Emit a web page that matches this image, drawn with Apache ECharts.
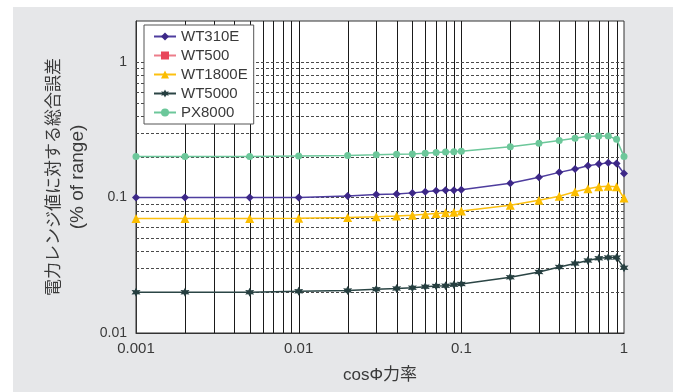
<!DOCTYPE html>
<html>
<head>
<meta charset="utf-8">
<script src="https://cdn.jsdelivr.net/npm/echarts@6/dist/echarts.min.js"></script>
<style>
  html, body { margin: 0; padding: 0; background: #fff; }
  #bg { position: absolute; left: 13px; top: 7px; width: 660px; height: 385px; background: #e6e7e9; }
  #chart { position: absolute; left: 0; top: 0; width: 673px; height: 392px; }
</style>
</head>
<body>
<div id="bg"></div>
<div id="chart"></div>
<script>
// power factor (x) and total error in % of range (y)
const cosPhi = [0.001, 0.002, 0.005, 0.01, 0.02, 0.03, 0.04, 0.05, 0.06, 0.07, 0.08, 0.09,
  0.1, 0.2, 0.3, 0.4, 0.5, 0.6, 0.7, 0.8, 0.9, 1];
const wt310e = [0.1, 0.1, 0.1, 0.1, 0.1026, 0.105, 0.106, 0.108, 0.11, 0.112, 0.113, 0.113,
  0.114, 0.127, 0.141, 0.153, 0.162, 0.171, 0.176, 0.18, 0.178, 0.15];
const wt500 = [];
const wt1800e = [0.07, 0.07, 0.07, 0.0701, 0.0712, 0.072, 0.073, 0.074, 0.075, 0.076, 0.077, 0.0776,
  0.0795, 0.0876, 0.0953, 0.102, 0.11, 0.116, 0.12, 0.121, 0.12, 0.099];
const wt5000 = [0.02, 0.02, 0.02, 0.0203, 0.0206, 0.021, 0.0213, 0.0216, 0.0219, 0.0222, 0.0223, 0.0227,
  0.023, 0.0258, 0.0282, 0.0307, 0.0325, 0.0342, 0.0356, 0.036, 0.036, 0.0303];
const px8000 = [0.2, 0.2, 0.2, 0.202, 0.204, 0.206, 0.208, 0.209, 0.212, 0.214, 0.216, 0.217,
  0.219, 0.236, 0.251, 0.263, 0.273, 0.282, 0.284, 0.284, 0.268, 0.2];

// grid line positions (log decades with 2..9 subdivisions)
const xGridLines = [0.002, 0.003, 0.004, 0.005, 0.006, 0.007, 0.008, 0.009, 0.01,
  0.02, 0.03, 0.04, 0.05, 0.06, 0.07, 0.08, 0.09, 0.1,
  0.2, 0.3, 0.4, 0.5, 0.6, 0.7, 0.8, 0.9];
const yGridLines = [0.02, 0.03, 0.04, 0.05, 0.06, 0.07, 0.08, 0.09, 0.1,
  0.2, 0.3, 0.4, 0.5, 0.6, 0.7, 0.8, 0.9, 1];

const X_MIN = 0.001, X_MAX = 1, Y_MIN = 0.01, Y_MAX = 2;
const FONT = "'Liberation Sans', 'Noto Sans CJK JP', sans-serif";
const TXT = '#3a3a3a';

const chart = echarts.init(document.getElementById('chart'));

const pairs = (ys) => ys.map((y, i) => [cosPhi[i], y]);
const starPath = 'path://M0,-10 L2.6,-4.5 L8.7,-5 L5.2,0 L8.7,5 L2.6,4.5 L0,10 L-2.6,4.5 L-8.7,5 L-5.2,0 L-8.7,-5 L-2.6,-4.5 Z';

function lineSeries(name, ys, color, markColor, symbol, size) {
  return {
    name: name,
    type: 'line',
    data: pairs(ys),
    symbol: symbol,
    symbolSize: size,
    showSymbol: true,
    lineStyle: { color: color, width: 1.5 },
    itemStyle: { color: markColor },
    z: 5
  };
}

// vertical solid grid lines
function renderVLine(params, api) {
  const v = api.value(0);
  const a = api.coord([v, Y_MIN]);
  const b = api.coord([v, Y_MAX]);
  const x = Math.round(a[0]) + 0.5;
  return {
    type: 'line',
    shape: { x1: x, y1: a[1], x2: x, y2: b[1] },
    style: { stroke: '#1a1a1a', lineWidth: 1 }
  };
}

// horizontal dashed grid lines
function renderHLine(params, api) {
  const v = api.value(1);
  const a = api.coord([X_MIN, v]);
  const b = api.coord([X_MAX, v]);
  const y = Math.round(a[1]) + 0.5;
  return {
    type: 'line',
    shape: { x1: a[0], y1: y, x2: b[0], y2: y },
    style: { stroke: '#4a4a4a', lineWidth: 1, lineDash: [3, 2] }
  };
}

const option = {
  animation: false,
  textStyle: { fontFamily: FONT },
  grid: {
    left: 136, right: 49, top: 21, bottom: 59,
    show: true, backgroundColor: '#fff', borderColor: '#333', borderWidth: 1
  },
  legend: {
    orient: 'vertical',
    left: 144, top: 25,
    backgroundColor: '#fff',
    borderColor: '#555', borderWidth: 1, borderRadius: 0,
    padding: [4, 6, 4, 9],
    itemGap: 4,
    itemWidth: 22, itemHeight: 10,
    textStyle: { fontSize: 15, color: TXT, fontFamily: FONT },
    data: ['WT310E', 'WT500', 'WT1800E', 'WT5000', 'PX8000']
  },
  xAxis: {
    type: 'log', logBase: 10, min: X_MIN, max: X_MAX,
    name: 'cosΦ力率',
    nameLocation: 'middle', nameGap: 34,
    nameTextStyle: { fontSize: 17, color: TXT, fontFamily: FONT },
    axisLine: { show: true, lineStyle: { color: '#333', width: 1 } },
    axisTick: { show: false },
    splitLine: { show: false },
    axisLabel: {
      fontSize: 15, color: TXT, margin: 8, fontFamily: FONT,
      formatter: (v) => String(Number(v.toPrecision(6)))
    }
  },
  yAxis: {
    type: 'log', logBase: 10, min: Y_MIN, max: Y_MAX,
    name: '{a|電力レンジ値に対する総合誤差}\n{b|(% of range)}',
    nameLocation: 'middle', nameRotate: 90, nameGap: 46,
    nameTextStyle: {
      color: TXT, fontFamily: FONT, lineHeight: 23,
      rich: {
        a: { fontSize: 17, color: TXT, fontFamily: FONT, lineHeight: 23 },
        b: { fontSize: 19, color: TXT, fontFamily: FONT, lineHeight: 23 }
      }
    },
    axisLine: { show: true, lineStyle: { color: '#333', width: 1 } },
    axisTick: { show: false },
    splitLine: { show: false },
    axisLabel: {
      fontSize: 14, color: TXT, margin: 9, fontFamily: FONT, showMaxLabel: false,
      formatter: (v) => String(Number(v.toPrecision(6)))
    }
  },
  series: [
    {
      type: 'custom',
      silent: true,
      clip: true,
      z: 1,
      renderItem: renderVLine,
      data: xGridLines.map((v) => [v, 0.1])
    },
    {
      type: 'custom',
      silent: true,
      clip: true,
      z: 1,
      renderItem: renderHLine,
      data: yGridLines.map((v) => [0.1, v])
    },
    lineSeries('WT310E', wt310e, '#4e3d9e', '#3d2888', 'diamond', 8),
    lineSeries('WT500', wt500, '#ec7d8a', '#e8465a', 'rect', 8),
    lineSeries('WT1800E', wt1800e, '#fcc010', '#fbbd00', 'triangle', 9),
    lineSeries('WT5000', wt5000, '#2b4545', '#263f40', starPath, 9),
    lineSeries('PX8000', px8000, '#6cc79a', '#6cc79a', 'circle', 7)
  ]
};

chart.setOption(option);
</script>
</body>
</html>
